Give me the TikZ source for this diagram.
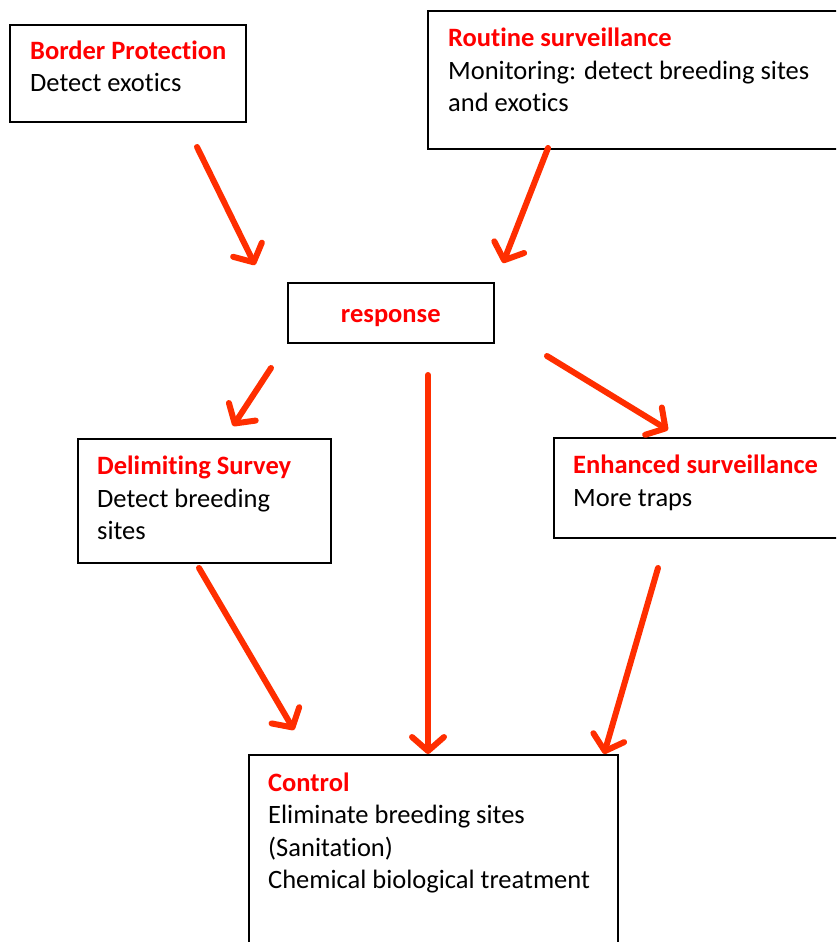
\documentclass[tikz,border=0pt]{standalone}
\usepackage{fontspec}
\setmainfont[Ligatures=NoCommon]{Carlito}
\usetikzlibrary{arrows.meta,positioning,calc}
\definecolor{ctitulo}{HTML}{FF0000}
\definecolor{cflecha}{HTML}{FF2E00}
\tikzset{
  caja/.style={draw=black,line width=1.6pt,fill=white,anchor=north west,
               inner sep=0pt},
  texto/.style={anchor=north west,align=left,inner sep=0pt,
                font=\fontsize{26.5}{32.5}\selectfont,
                execute at begin node=\strut},
  flecha/.style={-{Straight Barb[length=14pt,width=32pt,line cap=round,line join=round]},
                 draw=cflecha,line width=6pt,line cap=round},
}

\begin{document}
\begin{tikzpicture}[x=1pt,y=-1pt]

\useasboundingbox (0,0) rectangle (836,942);
\clip (0,0) rectangle (836,942);

% boxes
\node[caja,minimum width=236pt,minimum height=97pt]  (bp)   at (9,24)   {};
\node[caja,minimum width=430pt,minimum height=138pt] (rs)   at (427,10) {};
\node[caja,minimum width=206pt,minimum height=60pt]  (resp) at (287,282) {};
\node[caja,minimum width=253pt,minimum height=124pt] (ds)   at (77,438) {};
\node[caja,minimum width=300pt,minimum height=100pt] (es)   at (553,437) {};
\node[caja,minimum width=369pt,minimum height=220pt] (ctrl) at (248,754) {};

% texts
\node[texto] (bpt) at ($(bp.north west)+(21,16.5)$)
  {\textcolor{ctitulo}{\bfseries Border Protection}\\Detect exotics};
\node[texto] (rst) at ($(rs.north west)+(21,18)$)
  {\textcolor{ctitulo}{\bfseries Routine surveillance}\\
   Monitoring: detect breeding sites\\and exotics};
\node[texto,anchor=north] (respt) at ($(resp.north)+(0,18)$)
  {\textcolor{ctitulo}{\bfseries response}};
\node[texto] (dst) at ($(ds.north west)+(20,18)$)
  {\textcolor{ctitulo}{\bfseries Delimiting Survey}\\Detect breeding\\sites};
\node[texto] (est) at ($(es.north west)+(20,18)$)
  {\textcolor{ctitulo}{\bfseries Enhanced surveillance}\\More traps};
\node[texto] (ctrlt) at ($(ctrl.north west)+(20,18.3)$)
  {\textcolor{ctitulo}{\bfseries Control}\\Eliminate breeding sites\\(Sanitation)\\
   Chemical biological treatment};

% arrow ends
\coordinate (bp-o)   at (197,147);
\coordinate (resp-a) at (255,265);
\coordinate (rs-o)   at (548,148);
\coordinate (resp-b) at (503,263);
\coordinate (resp-l) at (271,368);
\coordinate (ds-i)   at (233,426);
\coordinate (resp-m) at (428,375);
\coordinate (resp-r) at (547,356);
\coordinate (es-i)   at (668,430);
\coordinate (ds-o)   at (199,568);
\coordinate (ctrl-l) at (294,730);
\coordinate (es-o)   at (658,568);
\coordinate (ctrl-r) at (604,754);

\draw[flecha] (bp-o) -- (resp-a);
\draw[flecha] (rs-o) -- (resp-b);
\draw[flecha] (resp-l) -- (ds-i);
\draw[flecha] (resp-m) -- (resp-m |- ctrl.north);
\draw[flecha] (resp-r) -- (es-i);
\draw[flecha] (ds-o) -- (ctrl-l);
\draw[flecha] (es-o) -- (ctrl-r);

\end{tikzpicture}
\end{document}
